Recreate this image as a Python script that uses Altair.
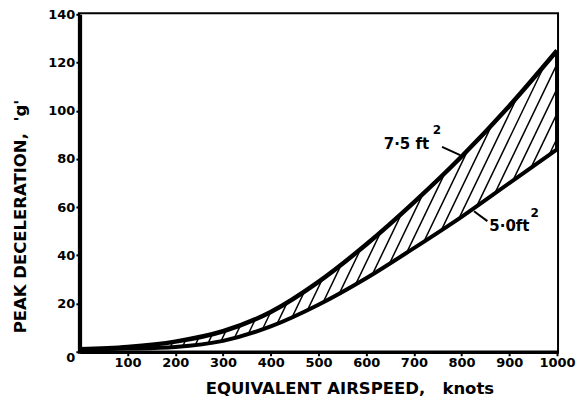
import altair as alt
import pandas as pd

# ---- data ----
speed = [0, 100, 200, 300, 400, 500, 600, 700, 800, 900, 1000]
decel_75 = [1, 2, 4.2, 8.5, 16.5, 29, 44.5, 62, 81, 102, 125]      # 7.5 ft^2
decel_50 = [1, 1.3, 2.0, 4.5, 10.5, 19.5, 30.5, 43, 56, 70, 84]    # 5.0 ft^2

x_ticks = [100, 200, 300, 400, 500, 600, 700, 800, 900, 1000]
y_ticks = [0, 20, 40, 60, 80, 100, 120, 140]

ann_text = ["7\u00b75 ft", "2", "5\u00b70ft", "2"]
ann_x = [732, 748, 858, 953]
ann_y = [86, 92, 52, 57.5]
ann_size = [15, 12, 15, 12]
ann_align = ["right", "center", "left", "center"]

lead_x = [759, 826]
lead_y = [85, 58.3]
lead_x2 = [797, 854]
lead_y2 = [81.6, 54.2]

HATCH_STEP = 25
HATCH_RUN = 340

FONT = "DejaVu Sans"
NB = "\u00a0"

df = pd.DataFrame({"speed": speed, "d75": decel_75, "d50": decel_50})
ann = pd.DataFrame({"t": ann_text, "x": ann_x, "y": ann_y, "s": ann_size, "a": ann_align})
lead = pd.DataFrame({"x": lead_x, "y": lead_y, "x2": lead_x2, "y2": lead_y2})

xscale = alt.Scale(domain=[0, 1000], nice=False, zero=False)
yscale = alt.Scale(domain=[0, 140], nice=False, zero=False)

xaxis = alt.Axis(
    values=x_ticks, format="d", title="EQUIVALENT AIRSPEED," + NB * 2 + " knots",
    titleX=270, titleY=42, titleAlign="center", titleBaseline="alphabetic",
    labelPadding=1, labelOverlap=False, labelFlush=False, zindex=1,
)
yaxis = alt.Axis(
    values=y_ticks, format="d", title="PEAK DECELERATION," + NB + " 'g'", titleX=-54, titleY=202,
    titleAngle=270, titleAlign="center", titleBaseline="alphabetic", labelPadding=1,
    labelOverlap=False, labelFlush=False,
    labelBaseline=alt.condition("datum.value === 0", alt.value("top"), alt.value("middle")),
    zindex=1,
)


def X(f):
    return alt.X(f, scale=xscale, axis=xaxis)


def Y(f):
    return alt.Y(f, scale=yscale, axis=yaxis)


hatch = (
    alt.Chart(alt.sequence(-HATCH_RUN, 1001, HATCH_STEP, as_="h"))
    .transform_calculate(h2=f"datum.h + {HATCH_RUN}", y0="0", y1="140")
    .mark_rule(color="black", strokeWidth=1.5, clip=True)
    .encode(x=X("h:Q"), x2="h2:Q", y=Y("y0:Q"), y2="y1:Q")
)

base = alt.Chart(df)
mask_top = base.mark_area(color="white", interpolate="monotone").encode(
    x=X("speed:Q"), y=Y("d75:Q"), y2=alt.datum(140)
)
mask_bot = base.mark_area(color="white", interpolate="monotone").encode(
    x=X("speed:Q"), y=Y("d50:Q"), y2=alt.datum(0)
)
line75 = base.mark_line(color="black", strokeWidth=4.5, interpolate="monotone").encode(
    x=X("speed:Q"), y=Y("d75:Q")
)
line50 = base.mark_line(color="black", strokeWidth=4, interpolate="monotone").encode(
    x=X("speed:Q"), y=Y("d50:Q")
)
leaders = alt.Chart(lead).mark_rule(color="black", strokeWidth=2).encode(
    x=X("x:Q"), y=Y("y:Q"), x2="x2:Q", y2="y2:Q"
)
labels = []
for a in ["right", "center", "left"]:
    for s in [15, 12]:
        sub = ann[(ann.a == a) & (ann.s == s)]
        if len(sub) == 0:
            continue
        labels.append(
            alt.Chart(sub).mark_text(
                font=FONT, fontWeight="bold", fontSize=s, align=a, baseline="middle", color="black"
            ).encode(x=X("x:Q"), y=Y("y:Q"), text="t:N")
        )

chart = (
    alt.layer(hatch, mask_top, mask_bot, line50, line75, leaders, *labels)
    .properties(
        width=478, height=338,
        autosize=alt.AutoSizeParams(type="none"),
        padding={"left": 72, "top": 6, "right": 20, "bottom": 47},
        background="white",
    )
    .configure_view(stroke="black", strokeWidth=4)
    .configure_axis(
        grid=False, domainColor="black", domainWidth=3.5, tickColor="black", tickWidth=2,
        tickSize=4, labelFont=FONT, labelFontWeight="bold", labelFontSize=13, labelColor="black",
        titleFont=FONT, titleFontWeight="bold", titleFontSize=16.5, titleColor="black",
    )
)

chart.save("out.html", embed_options={"renderer": "svg", "actions": False})
